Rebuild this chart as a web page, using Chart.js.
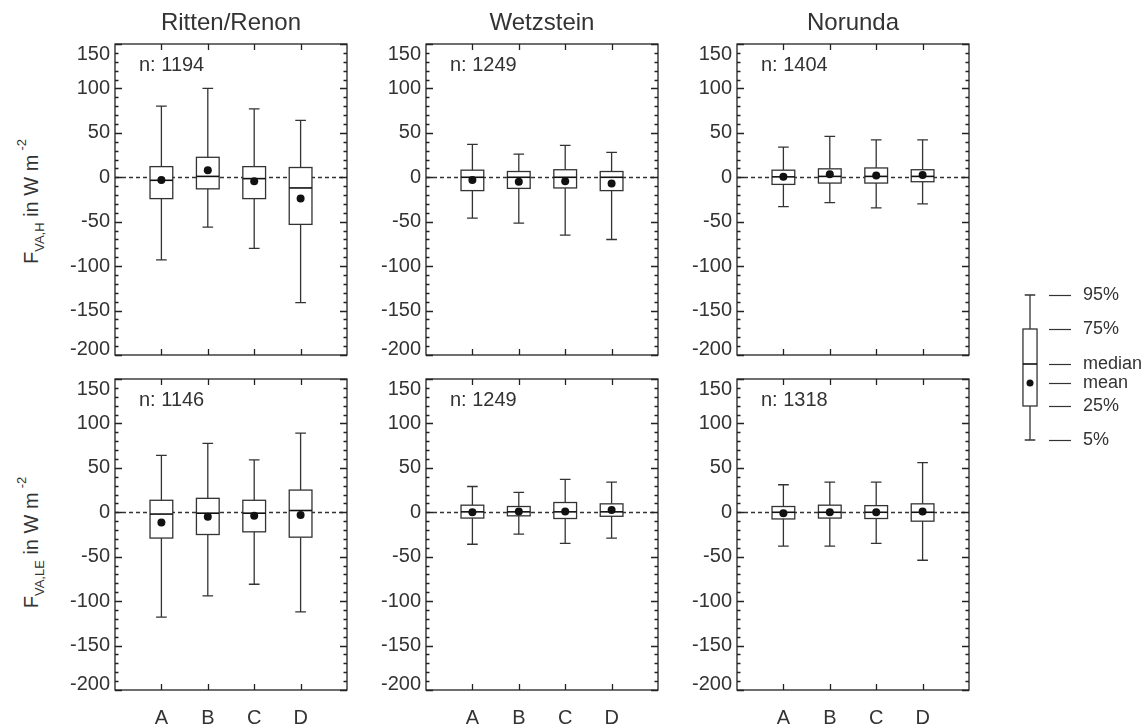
<!DOCTYPE html>
<html lang="en">
<head>
<meta charset="UTF-8">
<title>Box plots F_VA</title>
<script src="https://cdn.jsdelivr.net/npm/chart.js"></script>
<style>
    body {
        margin: 0;
        background: #ffffff;
        font-family: 'Liberation Sans', Arial, Helvetica, sans-serif;
        color: #333;
    }
    #page {
        position: relative;
        width: 1148px;
        height: 728px;
        overflow: hidden;
    }
    canvas {
        position: absolute;
    }
    .col-title {
        position: absolute;
        top: 8px;
        width: 232px;
        text-align: center;
        font-size: 24px;
        color: #333;
    }
    .y-title {
        position: absolute;
        width: 200px;
        text-align: center;
        font-size: 20px;
        color: #333;
        transform: rotate(-90deg);
        white-space: nowrap;
    }
    .y-title sub { font-size: 13px; vertical-align: -6px; }
    .y-title sup { font-size: 13px; vertical-align: 12px; margin-left: 4px; }
</style>
</head>
<body>
<div id="page"></div>

<script>
    // categories and stations
    const categories = ['A', 'B', 'C', 'D'];
    const stations = ['Ritten/Renon', 'Wetzstein', 'Norunda'];
    const yTicks = [-200, -150, -100, -50, 0, 50, 100, 150];

    // sample sizes per station
    const countsH = [1194, 1249, 1404];
    const countsLE = [1146, 1249, 1318];

    // F_VA,H : one row per station, one value per category A-D
    const hP95 = [[80, 100, 77, 64], [37, 26, 36, 28], [34, 46, 42, 42]];
    const hQ75 = [[12, 22.5, 12, 11], [8, 6.5, 8.5, 6.5], [8, 9.5, 10.5, 8.5]];
    const hMedian = [[-3.4, 1, -1.5, -12], [0, 0, 0, 0], [0.5, 1, 1, 1]];
    const hMean = [[-3, 8, -4.5, -24], [-3, -5, -4.5, -7], [0.5, 3.5, 2, 2.5]];
    const hQ25 = [[-24, -13, -24, -53], [-15, -12.5, -12, -15], [-8, -6.5, -6.5, -5]];
    const hP05 = [[-93, -56, -80, -141], [-46, -51.5, -65, -70], [-33, -28.5, -34.5, -30]];

    // F_VA,LE
    const leP95 = [[64, 77.5, 59, 89], [29, 22.5, 37, 34], [31, 34, 34, 56]];
    const leQ75 = [[13.5, 15.7, 13.5, 25], [8, 6.5, 11, 9.5], [6.5, 8, 7.5, 9.5]];
    const leMedian = [[-2, -1, -1, 2], [0.5, 0.5, 0.5, 0.5], [0, 0, 0, 0]];
    const leMean = [[-11.6, -5, -4, -3], [0, 1, 1, 2.5], [-1, 0, 0, 1]];
    const leQ25 = [[-29, -25, -22, -28], [-6.5, -4, -7, -4.5], [-7.5, -6.5, -7, -10]];
    const leP05 = [[-118, -94, -81, -112], [-36, -24.5, -35, -29], [-38, -38, -35, -54]];

    // legend sample box (arbitrary units on the legend's own scale)
    const legendLabels = ['95%', '75%', 'median', 'mean', '25%', '5%'];
    const legendValues = [145, 111, 76, 57, 34, 0];

    const FONT = "'Liberation Sans', Arial, Helvetica, sans-serif";
    const INK = '#333';

    const page = document.getElementById('page');

    // layout of the plot areas
    const plotLefts = [115, 426, 737];
    const plotTops = [44, 379];
    const plotW = 232, plotH = 311;
    const padL = 62, padT = 10, padR = 10;

    // draws frame, inward ticks, zero line, boxes, whiskers and n label
    const boxPlugin = {
        id: 'boxes',
        beforeDatasetsDraw(chart, args, opts) {
            const ctx = chart.ctx;
            const a = chart.chartArea;
            const x = chart.scales.x, y = chart.scales.y;
            ctx.save();

            // dashed zero line
            const y0 = Math.round(y.getPixelForValue(0)) + 0.5;
            ctx.strokeStyle = INK;
            ctx.lineWidth = 1.3;
            ctx.setLineDash([4, 3]);
            ctx.beginPath();
            ctx.moveTo(a.left, y0);
            ctx.lineTo(a.right, y0);
            ctx.stroke();
            ctx.setLineDash([]);

            // boxes and whiskers
            const half = 0.245, cap = 0.115;
            for (let i = 0; i < opts.median.length; i++) {
                const v = i + 1;
                const cx = x.getPixelForValue(v);
                const xl = x.getPixelForValue(v - half), xr = x.getPixelForValue(v + half);
                const cl = x.getPixelForValue(v - cap), cr = x.getPixelForValue(v + cap);
                const pTop = y.getPixelForValue(opts.p95[i]);
                const pBot = y.getPixelForValue(opts.p05[i]);
                const qTop = y.getPixelForValue(opts.q75[i]);
                const qBot = y.getPixelForValue(opts.q25[i]);
                const med = y.getPixelForValue(opts.median[i]);

                ctx.strokeStyle = INK;
                ctx.lineWidth = 1.3;
                ctx.beginPath();
                ctx.moveTo(cx, pTop); ctx.lineTo(cx, qTop);
                ctx.moveTo(cx, qBot); ctx.lineTo(cx, pBot);
                ctx.moveTo(cl, pTop); ctx.lineTo(cr, pTop);
                ctx.moveTo(cl, pBot); ctx.lineTo(cr, pBot);
                ctx.stroke();

                ctx.fillStyle = '#fff';
                ctx.fillRect(xl, qTop, xr - xl, qBot - qTop);
                ctx.strokeRect(xl, qTop, xr - xl, qBot - qTop);

                ctx.strokeStyle = '#111';
                ctx.lineWidth = 1.6;
                ctx.beginPath();
                ctx.moveTo(xl, med); ctx.lineTo(xr, med);
                ctx.stroke();
            }
            ctx.restore();
        },
        afterDraw(chart, args, opts) {
            const ctx = chart.ctx;
            const a = chart.chartArea;
            const x = chart.scales.x, y = chart.scales.y;
            ctx.save();
            ctx.strokeStyle = '#222';
            ctx.lineWidth = 1.3;
            ctx.strokeRect(a.left, a.top, a.right - a.left, a.bottom - a.top);

            // y ticks, major every 50 and minor every 10, on both sides
            ctx.beginPath();
            for (let v = y.min; v <= y.max; v += 10) {
                const py = Math.round(y.getPixelForValue(v)) + 0.5;
                const len = v % 50 === 0 ? 7 : 3.5;
                ctx.moveTo(a.left, py); ctx.lineTo(a.left + len, py);
                ctx.moveTo(a.right, py); ctx.lineTo(a.right - len, py);
            }
            // x ticks top and bottom
            for (let v = 1; v <= categories.length; v++) {
                const px = Math.round(x.getPixelForValue(v)) + 0.5;
                ctx.moveTo(px, a.top); ctx.lineTo(px, a.top + 6);
                ctx.moveTo(px, a.bottom); ctx.lineTo(px, a.bottom - 6);
            }
            ctx.stroke();

            ctx.fillStyle = INK;
            ctx.font = '20px ' + FONT;
            ctx.textBaseline = 'middle';

            // end labels of the y axis sit nudged inside the range, as in the original
            ctx.textAlign = 'right';
            ctx.fillText(String(y.max), a.left - 5, y.getPixelForValue(y.max) + 10);
            ctx.fillText(String(y.min), a.left - 5, y.getPixelForValue(y.min) - 6);

            // sample size
            ctx.textAlign = 'left';
            ctx.fillText('n: ' + opts.n, a.left + 24, a.top + 21);
            ctx.restore();
        }
    };

    function makePanel(row, col) {
        const isH = row === 0;
        const stats = {
            p95: (isH ? hP95 : leP95)[col],
            q75: (isH ? hQ75 : leQ75)[col],
            median: (isH ? hMedian : leMedian)[col],
            q25: (isH ? hQ25 : leQ25)[col],
            p05: (isH ? hP05 : leP05)[col],
            n: (isH ? countsH : countsLE)[col]
        };
        const mean = (isH ? hMean : leMean)[col];
        const xAxisH = isH ? 10 : 42;

        const canvas = document.createElement('canvas');
        canvas.width = padL + plotW + padR;
        canvas.height = padT + plotH + xAxisH;
        canvas.style.left = (plotLefts[col] - padL) + 'px';
        canvas.style.top = (plotTops[row] - padT) + 'px';
        page.appendChild(canvas);

        new Chart(canvas, {
            type: 'scatter',
            data: {
                datasets: [{
                    data: mean.map((v, i) => ({ x: i + 1, y: v })),
                    pointRadius: 4,
                    pointBackgroundColor: '#111',
                    pointBorderWidth: 0,
                    showLine: false
                }]
            },
            options: {
                responsive: false,
                animation: false,
                layout: { autoPadding: false, padding: { top: padT, right: padR, left: 0, bottom: 0 } },
                plugins: {
                    legend: { display: false },
                    tooltip: { enabled: false },
                    boxes: stats
                },
                scales: {
                    x: {
                        type: 'linear',
                        min: 0,
                        max: categories.length + 1,
                        afterBuildTicks: s => { s.ticks = categories.map((c, i) => ({ value: i + 1 })); },
                        afterFit: s => {
                            s.height = xAxisH;
                            s.paddingLeft = 0; s.paddingRight = 0;
                        },
                        grid: { display: false, drawTicks: false },
                        border: { display: false },
                        ticks: {
                            display: !isH,
                            padding: 16,
                            autoSkip: false,
                            maxRotation: 0,
                            color: INK,
                            font: { family: FONT, size: 20 },
                            callback: v => categories[v - 1]
                        }
                    },
                    y: {
                        min: -200,
                        max: 150,
                        afterBuildTicks: s => { s.ticks = yTicks.map(v => ({ value: v })); },
                        afterFit: s => {
                            s.width = padL;
                            s.paddingTop = 0; s.paddingBottom = 0;
                        },
                        grid: { display: false, drawTicks: false },
                        border: { display: false },
                        ticks: {
                            padding: 5,
                            color: INK,
                            font: { family: FONT, size: 20 },
                            // the two end labels are drawn by the plugin
                            callback: v => (v === -200 || v === 150) ? '' : String(v)
                        }
                    }
                }
            },
            plugins: [boxPlugin]
        });
    }

    for (let r = 0; r < 2; r++) {
        for (let c = 0; c < 3; c++) makePanel(r, c);
    }

    // column titles
    stations.forEach((s, c) => {
        const d = document.createElement('div');
        d.className = 'col-title';
        d.style.left = plotLefts[c] + 'px';
        d.textContent = s;
        page.appendChild(d);
    });

    // y axis titles
    const yTitles = [
        { html: 'F<sub>VA,H</sub> in W m<sup>-2</sup>', cy: 197 },
        { html: 'F<sub>VA,LE</sub> in W m<sup>-2</sup>', cy: 538 }
    ];
    yTitles.forEach(t => {
        const d = document.createElement('div');
        d.className = 'y-title';
        d.innerHTML = t.html;
        d.style.left = (30 - 100) + 'px';
        d.style.top = (t.cy - 12) + 'px';
        page.appendChild(d);
    });

    // legend: a single sample box drawn on its own small chart
    const legendPlugin = {
        id: 'legendBox',
        afterDraw(chart) {
            const ctx = chart.ctx;
            const x = chart.scales.x, y = chart.scales.y;
            const cx = x.getPixelForValue(0);
            const xl = x.getPixelForValue(-0.44), xr = x.getPixelForValue(0.44);
            const cl = x.getPixelForValue(-0.33), cr = x.getPixelForValue(0.33);
            const [p95, q75, med, mean, q25, p05] = legendValues.map(v => y.getPixelForValue(v));
            ctx.save();
            ctx.strokeStyle = INK;
            ctx.lineWidth = 1.3;
            ctx.beginPath();
            ctx.moveTo(cx, p95); ctx.lineTo(cx, q75);
            ctx.moveTo(cx, q25); ctx.lineTo(cx, p05);
            ctx.moveTo(cl, p95); ctx.lineTo(cr, p95);
            ctx.moveTo(cl, p05); ctx.lineTo(cr, p05);
            ctx.stroke();
            ctx.strokeRect(xl, q75, xr - xl, q25 - q75);
            ctx.lineWidth = 1.6;
            ctx.strokeStyle = '#111';
            ctx.beginPath();
            ctx.moveTo(xl, med); ctx.lineTo(xr, med);
            ctx.stroke();
            ctx.fillStyle = '#111';
            ctx.beginPath();
            ctx.arc(cx, mean, 3.5, 0, Math.PI * 2);
            ctx.fill();

            // label lines and texts
            ctx.strokeStyle = INK;
            ctx.lineWidth = 1.2;
            ctx.fillStyle = INK;
            ctx.font = '18px ' + FONT;
            ctx.textBaseline = 'middle';
            ctx.textAlign = 'left';
            legendValues.forEach((v, i) => {
                const py = Math.round(y.getPixelForValue(v)) + 0.5;
                ctx.beginPath();
                ctx.moveTo(cx + 19, py); ctx.lineTo(cx + 41, py);
                ctx.stroke();
                ctx.fillText(legendLabels[i], cx + 53, py);
            });
            ctx.restore();
        }
    };

    const legendCanvas = document.createElement('canvas');
    legendCanvas.width = 148;
    legendCanvas.height = 165;
    legendCanvas.style.left = '1000px';
    legendCanvas.style.top = '285px';
    page.appendChild(legendCanvas);

    new Chart(legendCanvas, {
        type: 'scatter',
        data: { datasets: [{ data: [] }] },
        options: {
            responsive: false,
            animation: false,
            layout: { autoPadding: false, padding: { top: 10, bottom: 10, left: 14, right: 6 } },
            plugins: { legend: { display: false }, tooltip: { enabled: false } },
            scales: {
                x: { display: false, min: -1, max: 7 },
                y: { display: false, min: 0, max: 145 }
            }
        },
        plugins: [legendPlugin]
    });
</script>
</body>
</html>
